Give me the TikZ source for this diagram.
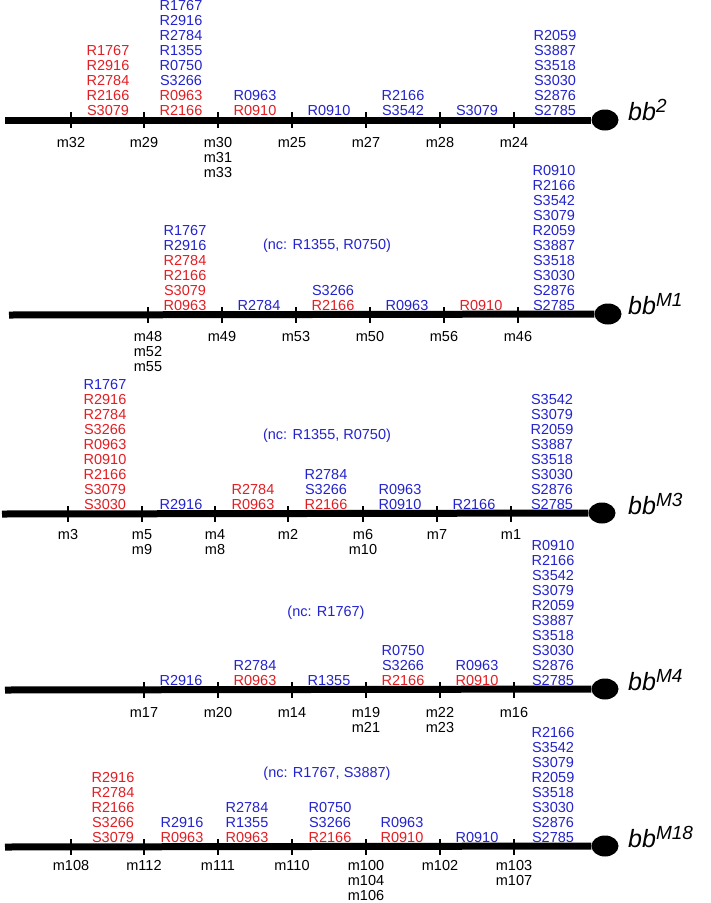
\documentclass[tikz,border=0pt]{standalone}
\usepackage{fontspec}
\setmainfont{Liberation Sans}
\usetikzlibrary{shapes.geometric}

\definecolor{mkred}{RGB}{225,30,35}
\definecolor{mkblue}{RGB}{35,35,205}
\newcommand{\rd}[1]{\textcolor{mkred}{#1}}
\newcommand{\bl}[1]{\textcolor{mkblue}{#1}}
\newcommand{\bbname}[1]{bb\raisebox{8pt}{\fontsize{19}{19}\selectfont #1}}

\begin{document}
\begin{tikzpicture}[x=1pt,y=-1pt,
  backbone/.style={line width=7pt},
  endball/.style={ellipse,fill=black,inner sep=0pt,minimum width=27pt,minimum height=21pt},
  tickmark/.style={line width=2pt},
  marker/.style={font=\fontsize{14.5}{15}\selectfont,align=center,anchor=north,inner sep=0pt},
  sites/.style={font=\fontsize{14.5}{15}\selectfont,align=center,anchor=south,inner sep=0pt},
  nclabel/.style={font=\fontsize{14.5}{15}\selectfont,text=mkblue,inner sep=0pt},
  mapname/.style={font=\fontsize{25}{27}\selectfont\itshape,anchor=base west,inner sep=0pt}]

\useasboundingbox (0,0) rectangle (711,903);

% bb^2
\coordinate (p1s) at (5,120);
\node[endball] (p1e) at (605,120) {};
\draw[backbone] (p1s) -- (p1e);
\node[mapname] (p1n) at (628,120) {\bbname{2}};
\foreach \x/\m [count=\i] in {71/m32,144/m29,218/{m30\\m31\\m33},292/m25,366/m27,440/m28,514/m24} {
  \coordinate (p1t\i) at (\x,120);
  \draw[tickmark] (\x,112) -- (\x,128);
  \node[marker] (p1m\i) at (\x,137) {\m};
}
\node[sites] (p1a) at (108,115.5) {\rd{R1767}\\\rd{R2916}\\\rd{R2784}\\\rd{R2166}\\\rd{S3079}};
\node[sites] (p1b) at (181,115.5) {\bl{R1767}\\\bl{R2916}\\\bl{R2784}\\\bl{R1355}\\\bl{R0750}\\\bl{S3266}\\\rd{R0963}\\\rd{R2166}};
\node[sites] (p1c) at (255,115.5) {\bl{R0963}\\\rd{R0910}};
\node[sites] (p1d) at (329,115.5) {\bl{R0910}};
\node[sites] (p1e2) at (403,115.5) {\bl{R2166}\\\bl{S3542}};
\node[sites] (p1f) at (477,115.5) {\bl{S3079}};
\node[sites] (p1g) at (555,115.5) {\bl{R2059}\\\bl{S3887}\\\bl{S3518}\\\bl{S3030}\\\bl{S2876}\\\bl{S2785}};

% bb^M1
\coordinate (p2s) at (9,315);
\node[endball] (p2e) at (608,314) {};
\draw[backbone] (p2s) -- (p2e);
\node[mapname] (p2n) at (628,314) {\bbname{M1}};
\foreach \x/\m [count=\i] in {148/{m48\\m52\\m55},222/m49,296/m53,370/m50,444/m56,518/m46} {
  \coordinate (p2t\i) at (\x,315);
  \draw[tickmark] (\x,307) -- (\x,323);
  \node[marker] (p2m\i) at (\x,331) {\m};
}
\node[nclabel] (p2nc) at (327,246) {(nc: R1355, R0750)};
\node[sites] (p2a) at (185,310.5) {\bl{R1767}\\\bl{R2916}\\\rd{R2784}\\\rd{R2166}\\\rd{S3079}\\\rd{R0963}};
\node[sites] (p2b) at (259,310.5) {\bl{R2784}};
\node[sites] (p2c) at (333,310.5) {\bl{S3266}\\\rd{R2166}};
\node[sites] (p2d) at (407,310.5) {\bl{R0963}};
\node[sites] (p2e2) at (481,310.5) {\rd{R0910}};
\node[sites] (p2f) at (554,310.5) {\bl{R0910}\\\bl{R2166}\\\bl{S3542}\\\bl{S3079}\\\bl{R2059}\\\bl{S3887}\\\bl{S3518}\\\bl{S3030}\\\bl{S2876}\\\bl{S2785}};

% bb^M3
\coordinate (p3s) at (2,514);
\node[endball] (p3e) at (602,513) {};
\draw[backbone] (p3s) -- (p3e);
\node[mapname] (p3n) at (628,514) {\bbname{M3}};
\foreach \x/\m [count=\i] in {68/m3,142/{m5\\m9},215/{m4\\m8},288/m2,363/{m6\\m10},437/m7,511/m1} {
  \coordinate (p3t\i) at (\x,514);
  \draw[tickmark] (\x,506) -- (\x,522);
  \node[marker] (p3m\i) at (\x,529) {\m};
}
\node[nclabel] (p3nc) at (327,436) {(nc: R1355, R0750)};
\node[sites] (p3a) at (105,509.5) {\bl{R1767}\\\rd{R2916}\\\rd{R2784}\\\rd{S3266}\\\rd{R0963}\\\rd{R0910}\\\rd{R2166}\\\rd{S3079}\\\rd{S3030}};
\node[sites] (p3b) at (181,509.5) {\bl{R2916}};
\node[sites] (p3c) at (253,509.5) {\rd{R2784}\\\rd{R0963}};
\node[sites] (p3d) at (326,509.5) {\bl{R2784}\\\bl{S3266}\\\rd{R2166}};
\node[sites] (p3e2) at (400,509.5) {\bl{R0963}\\\bl{R0910}};
\node[sites] (p3f) at (474,509.5) {\bl{R2166}};
\node[sites] (p3g) at (552,509.5) {\bl{S3542}\\\bl{S3079}\\\bl{R2059}\\\bl{S3887}\\\bl{S3518}\\\bl{S3030}\\\bl{S2876}\\\bl{S2785}};

% bb^M4
\coordinate (p4s) at (5,690);
\node[endball] (p4e) at (605,689) {};
\draw[backbone] (p4s) -- (p4e);
\node[mapname] (p4n) at (628,690) {\bbname{M4}};
\foreach \x/\m [count=\i] in {144/m17,218/m20,292/m14,366/{m19\\m21},440/{m22\\m23},514/m16} {
  \coordinate (p4t\i) at (\x,690);
  \draw[tickmark] (\x,682) -- (\x,698);
  \node[marker] (p4m\i) at (\x,707) {\m};
}
\node[nclabel] (p4nc) at (326,613) {(nc: R1767)};
\node[sites] (p4a) at (181,685.5) {\bl{R2916}};
\node[sites] (p4b) at (255,685.5) {\bl{R2784}\\\rd{R0963}};
\node[sites] (p4c) at (329,685.5) {\bl{R1355}};
\node[sites] (p4d) at (403,685.5) {\bl{R0750}\\\bl{S3266}\\\rd{R2166}};
\node[sites] (p4e2) at (477,685.5) {\bl{R0963}\\\rd{R0910}};
\node[sites] (p4f) at (553,685.5) {\bl{R0910}\\\bl{R2166}\\\bl{S3542}\\\bl{S3079}\\\bl{R2059}\\\bl{S3887}\\\bl{S3518}\\\bl{S3030}\\\bl{S2876}\\\bl{S2785}};

% bb^M18
\coordinate (p5s) at (5,847);
\node[endball] (p5e) at (605,846) {};
\draw[backbone] (p5s) -- (p5e);
\node[mapname] (p5n) at (628,847) {\bbname{M18}};
\foreach \x/\m [count=\i] in {71/m108,144/m112,218/m111,292/m110,366/{m100\\m104\\m106},440/m102,514/{m103\\m107}} {
  \coordinate (p5t\i) at (\x,847);
  \draw[tickmark] (\x,839) -- (\x,855);
  \node[marker] (p5m\i) at (\x,860) {\m};
}
\node[nclabel] (p5nc) at (327,774) {(nc: R1767, S3887)};
\node[sites] (p5a) at (113,842.5) {\rd{R2916}\\\rd{R2784}\\\rd{R2166}\\\rd{S3266}\\\rd{S3079}};
\node[sites] (p5b) at (182,842.5) {\bl{R2916}\\\rd{R0963}};
\node[sites] (p5c) at (247,842.5) {\bl{R2784}\\\bl{R1355}\\\rd{R0963}};
\node[sites] (p5d) at (330,842.5) {\bl{R0750}\\\bl{S3266}\\\rd{R2166}};
\node[sites] (p5e2) at (402,842.5) {\bl{R0963}\\\rd{R0910}};
\node[sites] (p5f) at (477,842.5) {\bl{R0910}};
\node[sites] (p5g) at (553,842.5) {\bl{R2166}\\\bl{S3542}\\\bl{S3079}\\\bl{R2059}\\\bl{S3518}\\\bl{S3030}\\\bl{S2876}\\\bl{S2785}};

\end{tikzpicture}
\end{document}
